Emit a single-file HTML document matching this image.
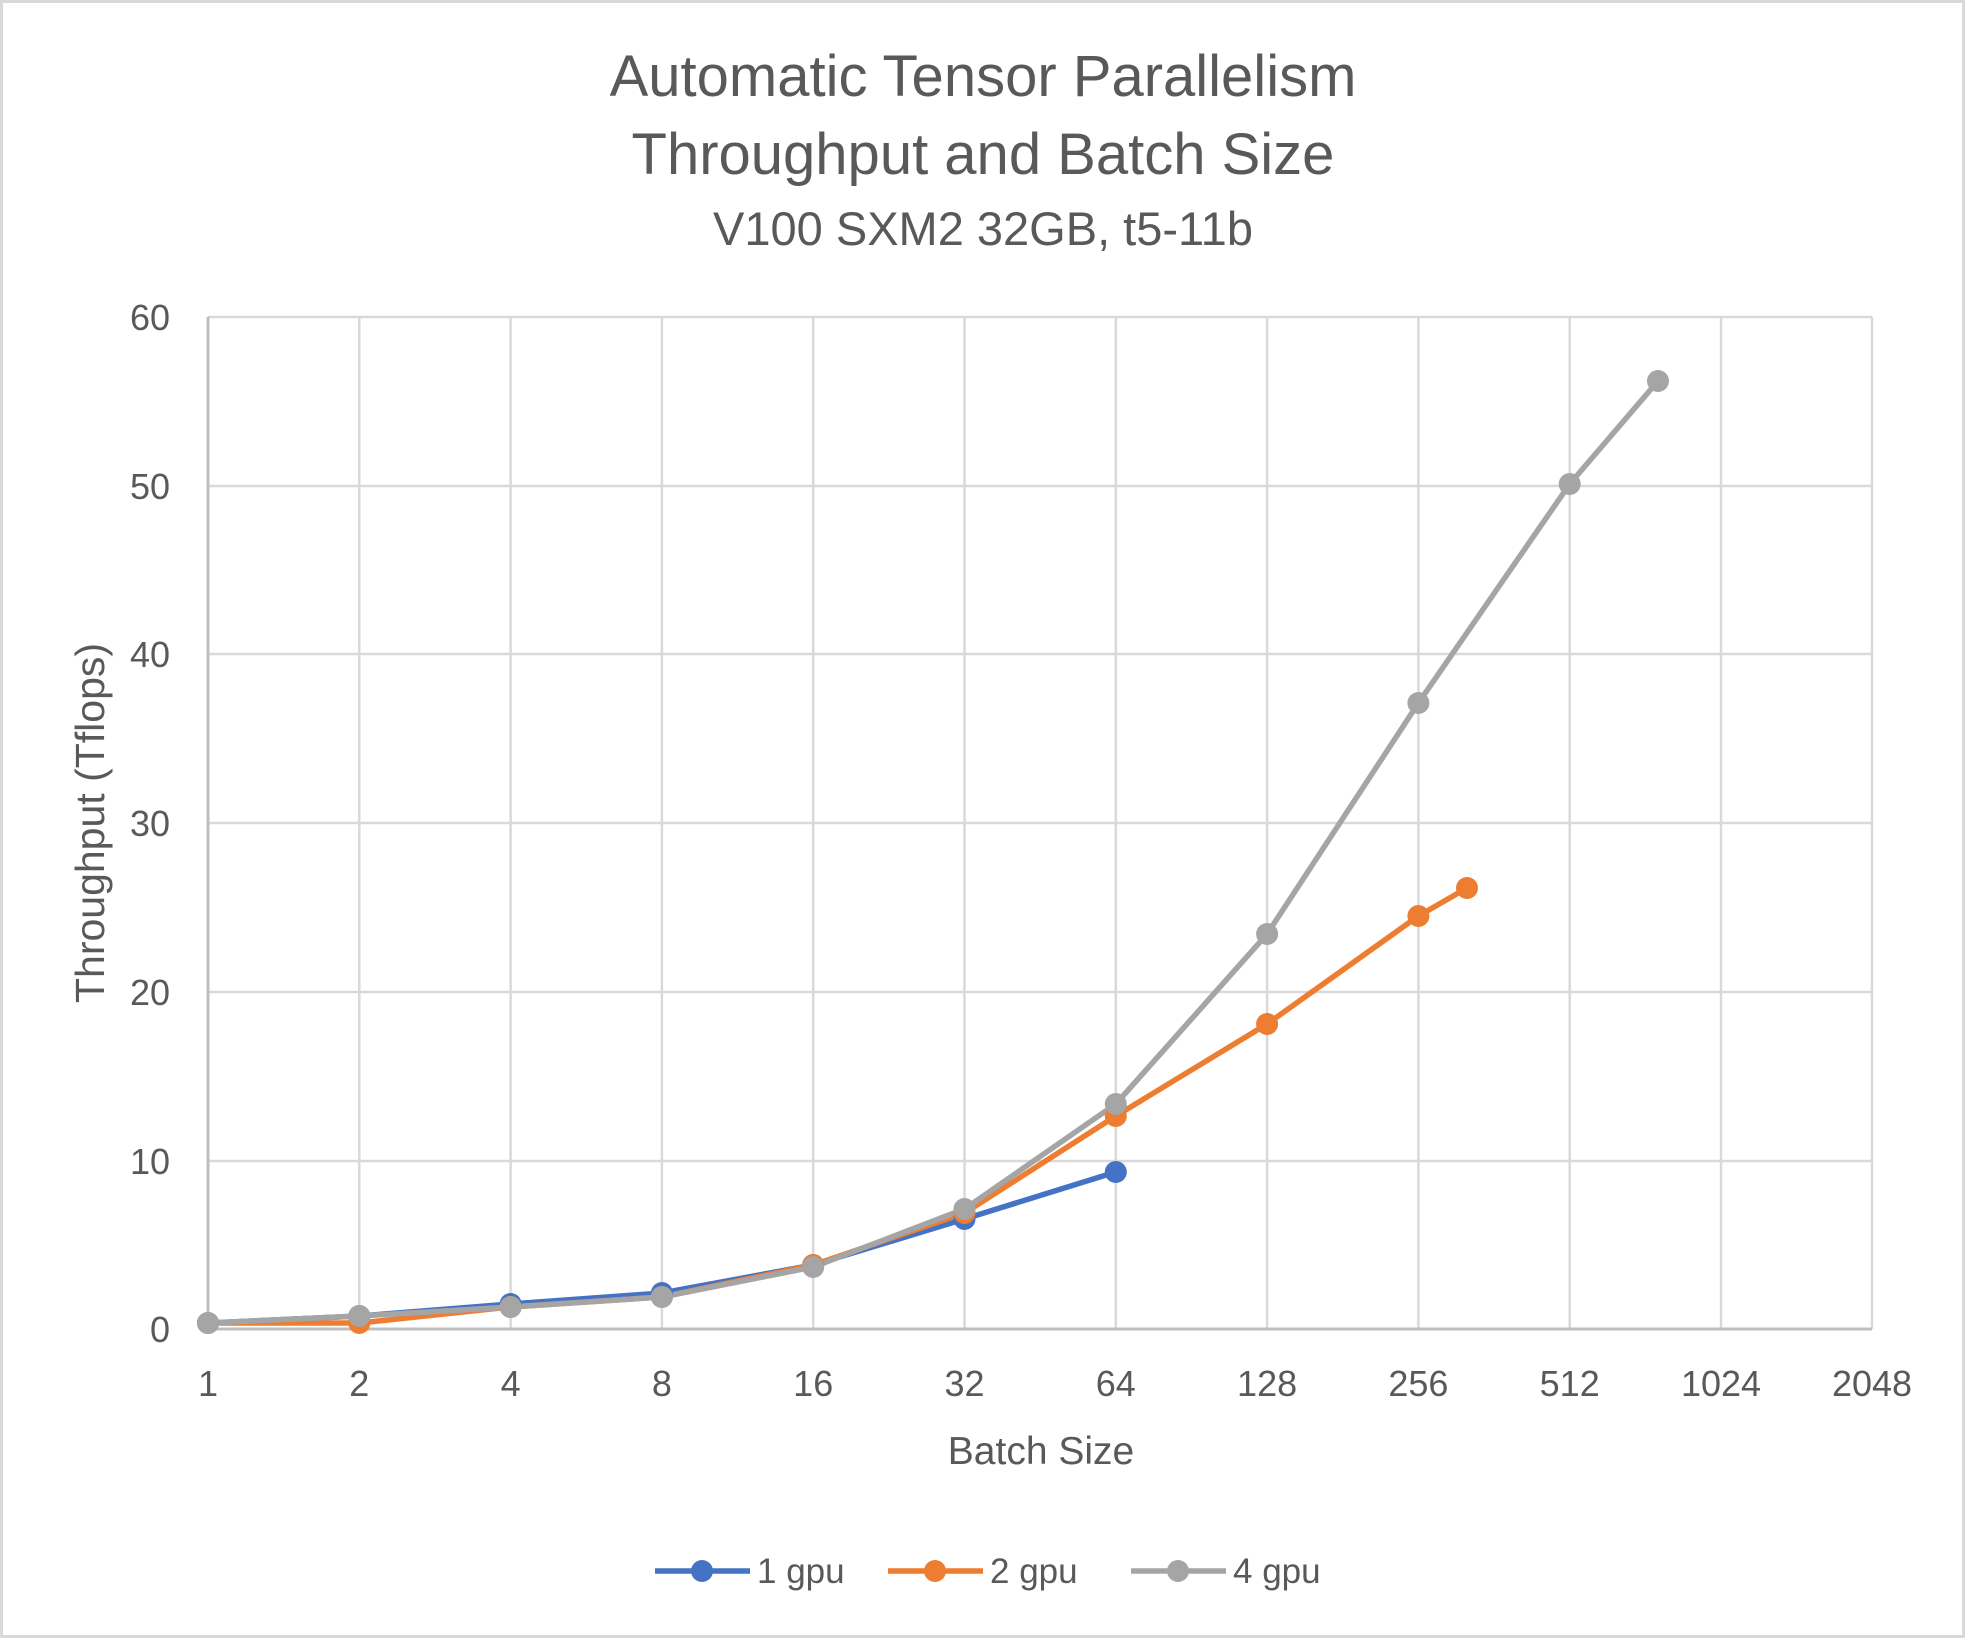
<!DOCTYPE html>
<html><head><meta charset="utf-8"><style>html,body{margin:0;padding:0;background:#fff}svg{display:block}</style></head>
<body>
<svg width="1966" height="1639" viewBox="0 0 1966 1639" xmlns="http://www.w3.org/2000/svg" font-family="'Liberation Sans', sans-serif" fill="#595959">
<rect x="1.5" y="1.5" width="1962" height="1635" fill="#fff" stroke="#d9d9d9" stroke-width="3"/>
<text x="983" y="96" font-size="58" text-anchor="middle">Automatic Tensor Parallelism</text>
<text x="983" y="174" font-size="58" text-anchor="middle">Throughput and Batch Size</text>
<text x="983" y="245" font-size="47" text-anchor="middle">V100 SXM2 32GB, t5-11b</text>
<g stroke="#d9d9d9" stroke-width="2.5">
<line x1="208" y1="317" x2="1872" y2="317"/><line x1="208" y1="486" x2="1872" y2="486"/><line x1="208" y1="654" x2="1872" y2="654"/><line x1="208" y1="823" x2="1872" y2="823"/><line x1="208" y1="992" x2="1872" y2="992"/><line x1="208" y1="1161" x2="1872" y2="1161"/>
<line x1="359.3" y1="317" x2="359.3" y2="1329"/><line x1="510.6" y1="317" x2="510.6" y2="1329"/><line x1="661.9" y1="317" x2="661.9" y2="1329"/><line x1="813.2" y1="317" x2="813.2" y2="1329"/><line x1="964.5" y1="317" x2="964.5" y2="1329"/><line x1="1115.8" y1="317" x2="1115.8" y2="1329"/><line x1="1267.1" y1="317" x2="1267.1" y2="1329"/><line x1="1418.4" y1="317" x2="1418.4" y2="1329"/><line x1="1569.7" y1="317" x2="1569.7" y2="1329"/><line x1="1721" y1="317" x2="1721" y2="1329"/><line x1="1872" y1="317" x2="1872" y2="1329"/>
</g>
<g stroke="#bfbfbf" stroke-width="3"><line x1="208" y1="317" x2="208" y2="1329"/><line x1="208" y1="1329" x2="1872" y2="1329"/></g>
<g font-size="36" text-anchor="end">
<text x="170" y="330">60</text><text x="170" y="499">50</text><text x="170" y="667">40</text><text x="170" y="836">30</text><text x="170" y="1005">20</text><text x="170" y="1174">10</text><text x="170" y="1342">0</text>
</g>
<g font-size="36" text-anchor="middle">
<text x="208" y="1396">1</text><text x="359.3" y="1396">2</text><text x="510.6" y="1396">4</text><text x="661.9" y="1396">8</text><text x="813.2" y="1396">16</text><text x="964.5" y="1396">32</text><text x="1115.8" y="1396">64</text><text x="1267.1" y="1396">128</text><text x="1418.4" y="1396">256</text><text x="1569.7" y="1396">512</text><text x="1721" y="1396">1024</text><text x="1872" y="1396">2048</text>
</g>
<text x="1041" y="1464" font-size="39" text-anchor="middle">Batch Size</text>
<text transform="translate(104,823) rotate(-90)" font-size="41" text-anchor="middle">Throughput (Tflops)</text>
<g fill="none" stroke-width="5.5" stroke-linejoin="round">
<polyline stroke="#4472C4" points="208,1323 359.3,1316 510.6,1304 661.9,1293 813.2,1265 964.5,1219 1115.8,1172"/>
<polyline stroke="#ED7D31" points="208,1323 359.3,1323 510.6,1307 661.9,1297 813.2,1265 964.5,1213 1115.8,1116 1267.1,1024 1418.4,916 1467,888"/>
<polyline stroke="#A5A5A5" points="208,1323 359.3,1316 510.6,1307 661.9,1297 813.2,1267 964.5,1209 1115.8,1104 1267.1,934 1418.4,703 1569.7,484 1658,381"/>
</g>
<g fill="#4472C4"><circle cx="208" cy="1323" r="11"/><circle cx="359.3" cy="1316" r="11"/><circle cx="510.6" cy="1304" r="11"/><circle cx="661.9" cy="1293" r="11"/><circle cx="813.2" cy="1265" r="11"/><circle cx="964.5" cy="1219" r="11"/><circle cx="1115.8" cy="1172" r="11"/></g>
<g fill="#ED7D31"><circle cx="208" cy="1323" r="11"/><circle cx="359.3" cy="1323" r="11"/><circle cx="510.6" cy="1307" r="11"/><circle cx="661.9" cy="1297" r="11"/><circle cx="813.2" cy="1265" r="11"/><circle cx="964.5" cy="1213" r="11"/><circle cx="1115.8" cy="1116" r="11"/><circle cx="1267.1" cy="1024" r="11"/><circle cx="1418.4" cy="916" r="11"/><circle cx="1467" cy="888" r="11"/></g>
<g fill="#A5A5A5"><circle cx="208" cy="1323" r="11"/><circle cx="359.3" cy="1316" r="11"/><circle cx="510.6" cy="1307" r="11"/><circle cx="661.9" cy="1297" r="11"/><circle cx="813.2" cy="1267" r="11"/><circle cx="964.5" cy="1209" r="11"/><circle cx="1115.8" cy="1104" r="11"/><circle cx="1267.1" cy="934" r="11"/><circle cx="1418.4" cy="703" r="11"/><circle cx="1569.7" cy="484" r="11"/><circle cx="1658" cy="381" r="11"/></g>
<g stroke-width="5.5"><line x1="655" y1="1571" x2="750" y2="1571" stroke="#4472C4"/><line x1="888" y1="1571" x2="983" y2="1571" stroke="#ED7D31"/><line x1="1131" y1="1571" x2="1226" y2="1571" stroke="#A5A5A5"/></g>
<circle cx="702" cy="1571" r="11" fill="#4472C4"/><circle cx="935" cy="1571" r="11" fill="#ED7D31"/><circle cx="1178" cy="1571" r="11" fill="#A5A5A5"/>
<g font-size="35"><text x="757" y="1583">1 gpu</text><text x="990" y="1583">2 gpu</text><text x="1233" y="1583">4 gpu</text></g>
</svg>
</body></html>
